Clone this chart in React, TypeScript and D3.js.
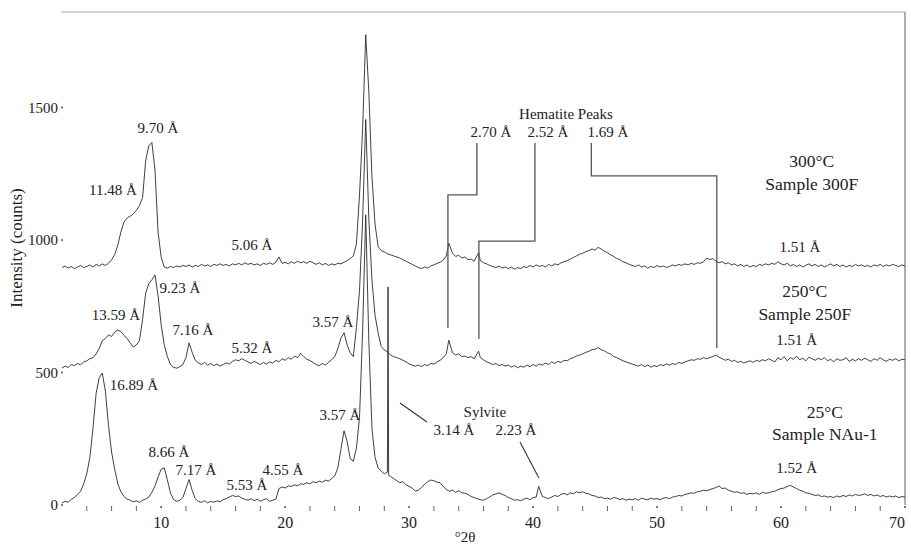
import React from 'react';
import * as d3 from 'd3';

// XRD patterns, [°2θ, counts]
const nau1: [number, number][] = [
  [2, 8], [2.25, 14], [2.5, 10], [2.75, 22], [3, 28], [3.25, 40], [3.5, 52], [3.75, 80], [4, 118], [4.25, 180],
  [4.5, 290], [4.75, 420], [5, 480], [5.25, 498], [5.5, 430], [5.75, 300], [6, 200], [6.25, 135], [6.5, 80], [6.75, 50],
  [7, 32], [7.25, 22], [7.5, 18], [7.75, 12], [8, 16], [8.25, 10], [8.5, 18], [8.75, 22], [9, 30], [9.25, 48],
  [9.5, 72], [9.75, 105], [10, 135], [10.25, 140], [10.5, 95], [10.75, 45], [11, 20], [11.25, 14], [11.5, 18], [11.75, 28],
  [12, 62], [12.25, 96], [12.5, 55], [12.75, 24], [13, 14], [13.25, 10], [13.5, 16], [13.75, 8], [14, 14], [14.25, 10],
  [14.5, 16], [14.75, 12], [15, 20], [15.25, 24], [15.5, 30], [15.75, 36], [16, 32], [16.25, 34], [16.5, 26], [16.75, 22],
  [17, 18], [17.25, 24], [17.5, 16], [17.75, 22], [18, 14], [18.25, 20], [18.5, 24], [18.75, 14], [19, 18], [19.25, 22],
  [19.5, 62], [19.75, 68], [20, 64], [20.25, 72], [20.5, 70], [20.75, 76], [21, 72], [21.25, 80], [21.5, 78], [21.75, 84],
  [22, 80], [22.25, 88], [22.5, 84], [22.75, 90], [23, 86], [23.25, 94], [23.5, 90], [23.75, 100], [24, 110], [24.25, 140],
  [24.5, 210], [24.75, 280], [25, 240], [25.25, 175], [25.5, 165], [25.75, 215], [26, 330], [26.25, 660], [26.5, 1095], [26.75, 620],
  [27, 290], [27.25, 180], [27.5, 140], [27.75, 128], [28, 118], [28.25, 124], [28.3, 823], [28.35, 112], [28.5, 108], [28.75, 100],
  [29, 92], [29.25, 84], [29.5, 88], [29.75, 76], [30, 70], [30.25, 64], [30.5, 52], [30.75, 56], [31, 66], [31.25, 78],
  [31.5, 88], [31.75, 94], [32, 92], [32.25, 86], [32.5, 84], [32.75, 70], [33, 58], [33.25, 52], [33.5, 56], [33.75, 48],
  [34, 54], [34.25, 46], [34.5, 44], [34.75, 40], [35, 32], [35.25, 28], [35.5, 24], [35.75, 20], [36, 18], [36.25, 24],
  [36.5, 30], [36.75, 38], [37, 42], [37.25, 46], [37.5, 40], [37.75, 36], [38, 28], [38.25, 24], [38.5, 18], [38.75, 20],
  [39, 16], [39.25, 22], [39.5, 26], [39.75, 20], [40, 28], [40.25, 30], [40.45, 70], [40.75, 32], [41, 28], [41.25, 24],
  [41.5, 30], [41.75, 36], [42, 32], [42.25, 40], [42.5, 44], [42.75, 38], [43, 46], [43.25, 42], [43.5, 50], [43.75, 46],
  [44, 50], [44.25, 44], [44.5, 42], [44.75, 36], [45, 34], [45.25, 28], [45.5, 30], [45.75, 24], [46, 26], [46.25, 22],
  [46.5, 28], [46.75, 26], [47, 20], [47.25, 24], [47.5, 18], [47.75, 22], [48, 20], [48.25, 24], [48.5, 18], [48.75, 26],
  [49, 22], [49.25, 20], [49.5, 26], [49.75, 22], [50, 24], [50.25, 20], [50.5, 26], [50.75, 28], [51, 24], [51.25, 30],
  [51.5, 32], [51.75, 36], [52, 34], [52.25, 40], [52.5, 42], [52.75, 46], [53, 44], [53.25, 50], [53.5, 52], [53.75, 56],
  [54, 54], [54.25, 58], [54.5, 62], [54.75, 66], [55, 72], [55.25, 62], [55.5, 64], [55.75, 56], [56, 52], [56.25, 48],
  [56.5, 50], [56.75, 44], [57, 46], [57.25, 40], [57.5, 44], [57.75, 42], [58, 46], [58.25, 40], [58.5, 48], [58.75, 44],
  [59, 46], [59.25, 50], [59.5, 52], [59.75, 58], [60, 62], [60.25, 64], [60.5, 70], [60.75, 74], [61, 68], [61.25, 62],
  [61.5, 56], [61.75, 52], [62, 46], [62.25, 44], [62.5, 40], [62.75, 36], [63, 38], [63.25, 32], [63.5, 34], [63.75, 30],
  [64, 32], [64.25, 28], [64.5, 34], [64.75, 30], [65, 36], [65.25, 32], [65.5, 38], [65.75, 34], [66, 40], [66.25, 36],
  [66.5, 38], [66.75, 42], [67, 36], [67.25, 40], [67.5, 34], [67.75, 38], [68, 32], [68.25, 36], [68.5, 30], [68.75, 34],
  [69, 30], [69.25, 34], [69.5, 28], [69.75, 32], [70, 30],
];

const s250F: [number, number][] = [
  [2, 517], [2.25, 524], [2.5, 519], [2.75, 530], [3, 526], [3.25, 534], [3.5, 529], [3.75, 540], [4, 544], [4.25, 552],
  [4.5, 556], [4.75, 570], [5, 590], [5.25, 620], [5.5, 628], [5.75, 642], [6, 636], [6.25, 652], [6.5, 660], [6.75, 655],
  [7, 640], [7.25, 628], [7.5, 612], [7.75, 596], [8, 604], [8.25, 620], [8.5, 700], [8.75, 800], [9, 835], [9.25, 850],
  [9.5, 868], [9.75, 790], [10, 680], [10.25, 604], [10.5, 560], [10.75, 530], [11, 520], [11.25, 516], [11.5, 522], [11.75, 530],
  [12, 556], [12.25, 612], [12.5, 576], [12.75, 546], [13, 536], [13.25, 530], [13.5, 538], [13.75, 528], [14, 534], [14.25, 526],
  [14.5, 532], [14.75, 524], [15, 530], [15.25, 536], [15.5, 532], [15.75, 542], [16, 548], [16.25, 544], [16.5, 552], [16.75, 546],
  [17, 540], [17.25, 534], [17.5, 542], [17.75, 536], [18, 530], [18.25, 538], [18.5, 532], [18.75, 540], [19, 536], [19.25, 546],
  [19.5, 540], [19.75, 552], [20, 546], [20.25, 556], [20.5, 550], [20.75, 562], [21, 556], [21.25, 572], [21.5, 560], [21.75, 550],
  [22, 545], [22.25, 538], [22.5, 530], [22.75, 526], [23, 534], [23.25, 528], [23.5, 538], [23.75, 548], [24, 560], [24.25, 590],
  [24.5, 630], [24.75, 650], [25, 604], [25.25, 574], [25.5, 560], [25.75, 670], [26, 810], [26.25, 1075], [26.5, 1455], [26.75, 1080],
  [27, 850], [27.25, 716], [27.5, 650], [27.75, 598], [28, 585], [28.25, 578], [28.5, 566], [28.75, 560], [29, 556], [29.25, 552],
  [29.5, 546], [29.75, 540], [30, 532], [30.25, 528], [30.5, 524], [30.75, 528], [31, 522], [31.25, 530], [31.5, 526], [31.75, 534],
  [32, 532], [32.25, 540], [32.5, 546], [32.75, 556], [33, 570], [33.2, 622], [33.5, 574], [33.75, 566], [34, 570], [34.25, 560],
  [34.5, 562], [34.75, 556], [35, 560], [35.25, 552], [35.6, 580], [35.75, 556], [36, 548], [36.25, 540], [36.5, 536], [36.75, 530],
  [37, 534], [37.25, 526], [37.5, 530], [37.75, 524], [38, 528], [38.25, 520], [38.5, 526], [38.75, 518], [39, 524], [39.25, 520],
  [39.5, 528], [39.75, 522], [40, 530], [40.25, 524], [40.5, 532], [40.75, 528], [41, 536], [41.25, 530], [41.5, 540], [41.75, 534],
  [42, 542], [42.25, 538], [42.5, 546], [42.75, 544], [43, 552], [43.25, 556], [43.5, 562], [43.75, 566], [44, 570], [44.25, 576],
  [44.5, 580], [44.75, 586], [45, 588], [45.25, 594], [45.5, 586], [45.75, 582], [46, 574], [46.25, 570], [46.5, 560], [46.75, 556],
  [47, 550], [47.25, 544], [47.5, 540], [47.75, 536], [48, 532], [48.25, 528], [48.5, 524], [48.75, 530], [49, 522], [49.25, 528],
  [49.5, 520], [49.75, 526], [50, 522], [50.25, 530], [50.5, 526], [50.75, 532], [51, 528], [51.25, 534], [51.5, 530], [51.75, 538],
  [52, 534], [52.25, 540], [52.5, 544], [52.75, 548], [53, 546], [53.25, 552], [53.5, 550], [53.75, 556], [54, 552], [54.25, 556],
  [54.5, 560], [54.75, 566], [55, 558], [55.25, 552], [55.5, 546], [55.75, 550], [56, 542], [56.25, 546], [56.5, 538], [56.75, 542],
  [57, 536], [57.25, 540], [57.5, 544], [57.75, 538], [58, 546], [58.25, 542], [58.5, 548], [58.75, 544], [59, 552], [59.25, 546],
  [59.5, 540], [59.75, 556], [60, 548], [60.25, 560], [60.5, 544], [60.75, 556], [61, 550], [61.25, 562], [61.5, 548], [61.75, 554],
  [62, 544], [62.25, 558], [62.5, 552], [62.75, 546], [63, 554], [63.25, 548], [63.5, 556], [63.75, 544], [64, 550], [64.25, 540],
  [64.5, 552], [64.75, 546], [65, 548], [65.25, 556], [65.5, 542], [65.75, 550], [66, 544], [66.25, 552], [66.5, 546], [66.75, 554],
  [67, 548], [67.25, 542], [67.5, 552], [67.75, 546], [68, 556], [68.25, 548], [68.5, 542], [68.75, 550], [69, 546], [69.25, 552],
  [69.5, 544], [69.75, 550], [70, 548],
];

const s300F: [number, number][] = [
  [2, 896], [2.25, 902], [2.5, 894], [2.75, 900], [3, 892], [3.25, 898], [3.5, 904], [3.75, 896], [4, 900], [4.25, 906],
  [4.5, 898], [4.75, 908], [5, 902], [5.25, 910], [5.5, 904], [5.75, 912], [6, 925], [6.25, 945], [6.5, 980], [6.75, 1030],
  [7, 1068], [7.25, 1083], [7.5, 1090], [7.75, 1098], [8, 1112], [8.25, 1130], [8.5, 1160], [8.75, 1300], [9, 1355], [9.25, 1368],
  [9.5, 1264], [9.75, 1030], [10, 935], [10.25, 898], [10.5, 894], [10.75, 900], [11, 896], [11.25, 902], [11.5, 898], [11.75, 904],
  [12, 900], [12.25, 906], [12.5, 898], [12.75, 904], [13, 900], [13.25, 908], [13.5, 902], [13.75, 906], [14, 900], [14.25, 908],
  [14.5, 904], [14.75, 910], [15, 904], [15.25, 908], [15.5, 902], [15.75, 910], [16, 906], [16.25, 912], [16.5, 906], [16.75, 914],
  [17, 908], [17.25, 912], [17.5, 906], [17.75, 910], [18, 904], [18.25, 912], [18.5, 908], [18.75, 914], [19, 908], [19.25, 916],
  [19.5, 936], [19.75, 912], [20, 916], [20.25, 910], [20.5, 918], [20.75, 912], [21, 920], [21.25, 914], [21.5, 918], [21.75, 912],
  [22, 920], [22.25, 914], [22.5, 908], [22.75, 914], [23, 906], [23.25, 912], [23.5, 904], [23.75, 910], [24, 906], [24.25, 912],
  [24.5, 910], [24.75, 916], [25, 922], [25.25, 930], [25.5, 940], [25.75, 985], [26, 1170], [26.25, 1420], [26.5, 1775], [26.75, 1560],
  [27, 1240], [27.25, 1060], [27.5, 975], [27.75, 960], [28, 955], [28.25, 948], [28.5, 944], [28.75, 940], [29, 936], [29.25, 932],
  [29.5, 926], [29.75, 920], [30, 914], [30.25, 908], [30.5, 902], [30.75, 896], [31, 892], [31.25, 898], [31.5, 894], [31.75, 902],
  [32, 906], [32.25, 912], [32.5, 916], [32.75, 924], [33, 940], [33.2, 988], [33.5, 950], [33.75, 938], [34, 942], [34.25, 932],
  [34.5, 936], [34.75, 926], [35, 928], [35.25, 920], [35.6, 952], [35.75, 922], [36, 914], [36.25, 910], [36.5, 904], [36.75, 900],
  [37, 896], [37.25, 902], [37.5, 894], [37.75, 898], [38, 892], [38.25, 898], [38.5, 890], [38.75, 896], [39, 892], [39.25, 900],
  [39.5, 896], [39.75, 904], [40, 898], [40.25, 906], [40.5, 900], [40.75, 904], [41, 898], [41.25, 908], [41.5, 902], [41.75, 910],
  [42, 906], [42.25, 914], [42.5, 918], [42.75, 922], [43, 928], [43.25, 934], [43.5, 940], [43.75, 946], [44, 950], [44.25, 956],
  [44.5, 960], [44.75, 966], [45, 962], [45.25, 972], [45.5, 966], [45.75, 958], [46, 952], [46.25, 944], [46.5, 938], [46.75, 930],
  [47, 926], [47.25, 918], [47.5, 914], [47.75, 908], [48, 904], [48.25, 900], [48.5, 906], [48.75, 898], [49, 902], [49.25, 894],
  [49.5, 900], [49.75, 896], [50, 904], [50.25, 898], [50.5, 902], [50.75, 896], [51, 900], [51.25, 906], [51.5, 902], [51.75, 908],
  [52, 904], [52.25, 910], [52.5, 906], [52.75, 912], [53, 908], [53.25, 914], [53.5, 912], [53.75, 918], [54, 932], [54.25, 926],
  [54.5, 930], [54.75, 920], [55, 914], [55.25, 918], [55.5, 910], [55.75, 914], [56, 906], [56.25, 910], [56.5, 902], [56.75, 908],
  [57, 900], [57.25, 906], [57.5, 898], [57.75, 904], [58, 900], [58.25, 908], [58.5, 904], [58.75, 910], [59, 906], [59.25, 912],
  [59.5, 908], [59.75, 918], [60, 910], [60.25, 906], [60.5, 912], [60.75, 902], [61, 908], [61.25, 900], [61.5, 906], [61.75, 898],
  [62, 904], [62.25, 910], [62.5, 902], [62.75, 908], [63, 900], [63.25, 906], [63.5, 898], [63.75, 904], [64, 910], [64.25, 902],
  [64.5, 908], [64.75, 900], [65, 906], [65.25, 898], [65.5, 904], [65.75, 900], [66, 908], [66.25, 902], [66.5, 906], [66.75, 900],
  [67, 904], [67.25, 898], [67.5, 906], [67.75, 902], [68, 908], [68.25, 900], [68.5, 906], [68.75, 902], [69, 908], [69.25, 904],
  [69.5, 900], [69.75, 906], [70, 902],
];

const yTicks = [0, 500, 1000, 1500];
const xLabels = [10, 20, 30, 40, 50, 60, 70];
const xMinor = d3.range(4, 70, 2);

// peak labels: [text, °2θ, counts, font size]
const peakLabels: [string, number, number, number][] = [
  ['9.70 Å', 9.74, 1404, 15],
  ['11.48 Å', 6.11, 1170, 15],
  ['5.06 Å', 17.32, 962, 15],
  ['1.51 Å', 61.52, 955, 15],
  ['300°C', 62.48, 1276, 17.5],
  ['Sample 300F', 62.48, 1189, 17.5],
  ['13.59 Å', 6.35, 698, 15],
  ['9.23 Å', 11.52, 800, 15],
  ['7.16 Å', 12.56, 642, 15],
  ['5.32 Å', 17.32, 574, 15],
  ['3.57 Å', 23.85, 672, 15],
  ['250°C', 61.92, 785, 17.5],
  ['Sample 250F', 61.92, 698, 17.5],
  ['1.51 Å', 61.27, 604, 15],
  ['16.89 Å', 7.81, 434, 15],
  ['8.66 Å', 10.63, 181, 15],
  ['7.17 Å', 12.81, 113, 15],
  ['5.53 Å', 16.92, 57, 15],
  ['4.55 Å', 19.82, 113, 15],
  ['3.57 Å', 24.42, 321, 15],
  ['Sylvite', 36.11, 332, 15],
  ['3.14 Å', 33.61, 264, 15],
  ['2.23 Å', 38.61, 264, 15],
  ['25°C', 63.53, 328, 17.5],
  ['Sample NAu-1', 63.53, 245, 17.5],
  ['1.52 Å', 61.27, 121, 15],
  ['Hematite Peaks', 42.65, 1458, 15],
  ['2.70 Å', 36.6, 1389, 15],
  ['2.52 Å', 41.2, 1389, 15],
  ['1.69 Å', 46.03, 1389, 15],
];

// hematite leaders: label line 2θ, top, elbow, peak 2θ, bottom (counts)
const hematite: [number, number, number, number, number][] = [
  [35.47, 1366, 1170, 33.13, 668],
  [40.15, 1366, 996, 35.63, 626],
  [44.7, 1366, 1242, 54.82, 592],
];

// sylvite pointers: [2θ1, c1, 2θ2, c2]
const sylvite: [number, number, number, number][] = [
  [31.44, 313, 29.26, 385],
  [38.94, 238, 40.47, 102],
];

const W = 911;
const H = 547;
const FONT = "'Liberation Serif', 'Times New Roman', Times, serif";

export default function App() {
  const x = d3.scaleLinear().domain([2, 70]).range([62, 905]);
  const y = d3.scaleLinear().domain([0, 1500]).range([505, 107.5]);
  const line = d3
    .line<[number, number]>()
    .x((d) => x(d[0]))
    .y((d) => y(d[1]));

  const txt = { fontFamily: FONT };

  return (
    <svg
      width={W}
      height={H}
      style={{ position: 'absolute', left: 0, top: 0, background: '#fff', fontFamily: FONT }}
    >
      {/* frame */}
      <line x1={61} x2={x(70)} y1={12} y2={12} stroke="#aaa" strokeWidth={1} />
      <line x1={x(70)} x2={x(70)} y1={12} y2={y(0)} stroke="#777" strokeWidth={1.2} />

      {/* y axis */}
      {yTicks.map((t) => (
        <g key={t}>
          <text x={58} y={y(t)} dy="0.35em" textAnchor="end" fontSize={15} fill="#222" style={txt}>
            {t}
          </text>
          <circle cx={62} cy={y(t)} r={0.9} fill="#444" />
        </g>
      ))}
      <text
        transform={`translate(22,${248}) rotate(-90)`}
        textAnchor="middle"
        fontSize={17}
        fill="#222"
        style={txt}
      >
        Intensity  (counts)
      </text>

      {/* x axis */}
      {xMinor
        .filter((t) => t % 10 !== 0)
        .map((t) => (
          <line key={t} x1={x(t)} x2={x(t)} y1={506} y2={511} stroke="#666" strokeWidth={1} />
        ))}
      {xLabels.map((t) => (
        <g key={t}>
          <circle cx={x(t)} cy={507} r={1} fill="#444" />
          <text x={Math.min(x(t), 897)} y={528} textAnchor="middle" fontSize={16} fill="#222" style={txt}>
            {t}
          </text>
        </g>
      ))}
      <text x={465} y={542} textAnchor="middle" fontSize={15} fill="#222" style={txt}>
        °2θ
      </text>

      {/* traces */}
      {[nau1, s250F, s300F].map((s, i) => (
        <path key={i} d={line(s) ?? ''} fill="none" stroke="#2a2a2a" strokeWidth={0.9} />
      ))}

      {/* hematite leaders */}
      {hematite.map(([lx, top, elbow, px, bottom], i) => (
        <path
          key={i}
          d={`M${x(lx)},${y(top)}V${y(elbow)}H${x(px)}V${y(bottom)}`}
          fill="none"
          stroke="#555"
          strokeWidth={1.3}
        />
      ))}

      {/* sylvite pointers */}
      {sylvite.map(([a, b, c, d], i) => (
        <line key={i} x1={x(a)} y1={y(b)} x2={x(c)} y2={y(d)} stroke="#333" strokeWidth={1.1} />
      ))}

      {/* labels */}
      {peakLabels.map(([t, px, py, fs], i) => (
        <text key={i} x={x(px)} y={y(py)} textAnchor="middle" fontSize={fs} fill="#222" style={txt}>
          {t}
        </text>
      ))}
    </svg>
  );
}
